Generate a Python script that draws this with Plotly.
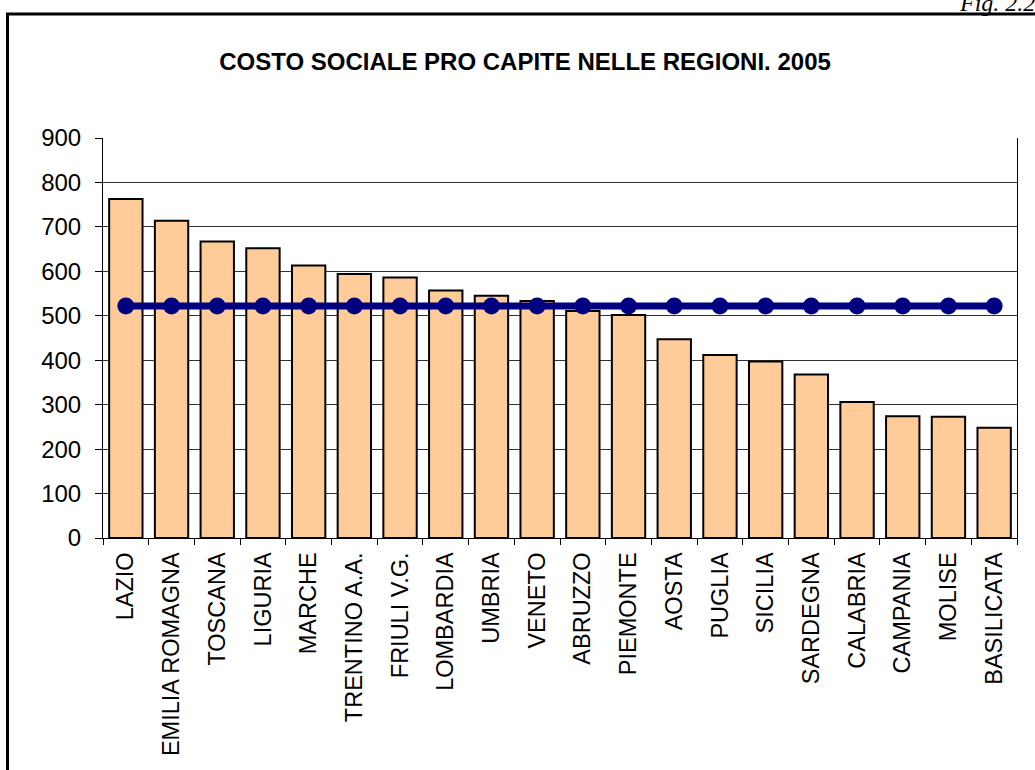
import plotly.graph_objects as go

regions = ["LAZIO", "EMILIA ROMAGNA", "TOSCANA", "LIGURIA", "MARCHE", "TRENTINO A.A.",
           "FRIULI V.G.", "LOMBARDIA", "UMBRIA", "VENETO", "ABRUZZO", "PIEMONTE",
           "AOSTA", "PUGLIA", "SICILIA", "SARDEGNA", "CALABRIA", "CAMPANIA",
           "MOLISE", "BASILICATA"]
costo = [763, 714, 667, 652, 613, 594, 586, 557, 545, 533, 511, 502,
         447, 412, 397, 368, 306, 274, 273, 248]
media_italia = [522] * len(regions)
y_ticks = [0, 100, 200, 300, 400, 500, 600, 700, 800, 900]

W, H = 1035, 770
L, R, T, B = 103, 18, 138, 232
pw, ph = W - L - R, H - T - B

def px(x):
    return (x - L) / pw

def py(y):
    return (H - B - y) / ph

FONT = "Arial, Liberation Sans, sans-serif"

fig = go.Figure()
fig.add_trace(go.Bar(
    x=regions, y=costo,
    marker=dict(color="#FFCC99", line=dict(color="black", width=2)),
    showlegend=False,
))
fig.add_trace(go.Scatter(
    x=regions, y=media_italia, mode="lines+markers",
    line=dict(color="#000080", width=7),
    marker=dict(color="#000080", size=17),
    showlegend=False,
))

fig.update_layout(
    width=W, height=H,
    margin=dict(l=L, r=R, t=T, b=B),
    paper_bgcolor="white", plot_bgcolor="white",
    bargap=0.27,
    font=dict(family=FONT, color="black"),
    title=dict(text="<b>COSTO SOCIALE PRO CAPITE NELLE REGIONI. 2005</b>",
               font=dict(size=24, family=FONT, color="black"),
               x=px(525), xref="paper", xanchor="center",
               y=1 - 62 / H, yanchor="middle"),
    xaxis=dict(
        range=[-0.5, len(regions) - 0.5],
        tickangle=-90, tickfont=dict(size=23.5, family=FONT, color="black"),
        showline=True, linecolor="black", linewidth=1,
        ticks="outside", tickson="boundaries", ticklen=6, tickcolor="black",
        showgrid=False, ticklabelstandoff=4,
    ),
    yaxis=dict(
        range=[0, 900], tickvals=y_ticks,
        tickfont=dict(size=24, family=FONT, color="black"),
        showline=True, linecolor="black", linewidth=1, mirror=True,
        ticks="outside", ticklen=7, tickcolor="black",
        showgrid=True, gridcolor="#333333", gridwidth=1,
        zeroline=False, ticklabelstandoff=9,
    ),
    shapes=[dict(
        type="rect", xref="paper", yref="paper",
        x0=px(7.5), x1=px(W + 50), y0=py(H + 50), y1=py(14),
        line=dict(color="black", width=3), fillcolor="rgba(0,0,0,0)",
        layer="above",
    )],
    annotations=[dict(
        text="<i>Fig. 2.2</i>", xref="paper", yref="paper",
        x=px(958), y=py(17), xanchor="left", yanchor="bottom",
        showarrow=False, borderpad=0,
        font=dict(family="Liberation Serif, Times New Roman, serif", size=24, color="black"),
    )],
)

fig.write_html("out.html", config={"displayModeBar": False},
               post_script="document.body.style.margin='0';")
